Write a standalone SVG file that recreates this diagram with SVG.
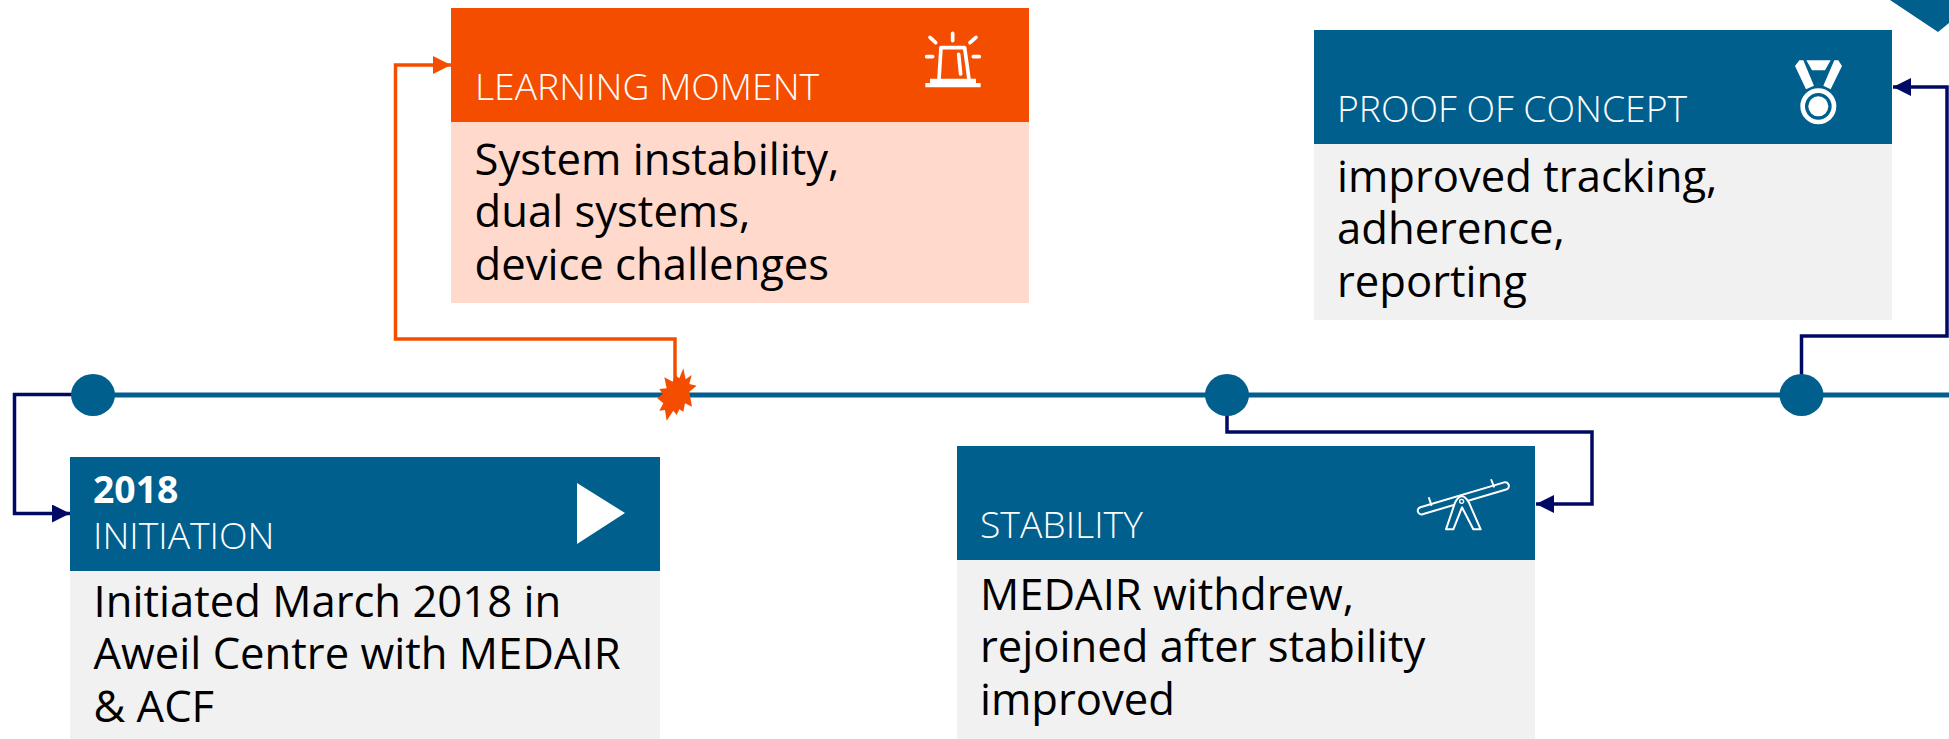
<svg xmlns="http://www.w3.org/2000/svg" width="1949" height="739" viewBox="0 0 1949 739">
<style>
text{font-family:"Open Sans","Noto Sans","Liberation Sans",sans-serif}
.head{fill:#005f8d}
.body{fill:#f1f1f1}
.ht{font-size:37.3px;font-weight:300;fill:#fff}
.yr{font-size:37.3px;font-weight:700;fill:#fff}
.bt{font-size:43.6px;fill:#000}
.dot{fill:#005f8d}
.ic{fill:none;stroke:#fff;stroke-linecap:round;stroke-linejoin:round}
.c{fill:none;stroke:#000a64;stroke-width:3.500}
.co{fill:none;stroke:#f44d00;stroke-width:3.500}
</style>
<defs>
<marker id="an" markerUnits="userSpaceOnUse" markerWidth="18" markerHeight="18" refX="18" refY="9" orient="auto"><path d="M0 0L18 9L0 18Z" fill="#000a64"/></marker>
<marker id="ao" markerUnits="userSpaceOnUse" markerWidth="18" markerHeight="18" refX="18" refY="9" orient="auto"><path d="M0 0L18 9L0 18Z" fill="#f44d00"/></marker>
</defs>
<rect width="1949" height="739" fill="#fff"/>
<path id="corner" class="dot" d="M1890 0L1938 32L1949 23V0Z"/>
<path id="timeline" d="M93 395H1949" stroke="#005f8d" stroke-width="5" fill="none"/>
<g id="connectors">
<path class="c" d="M72 394.500H14.500V513.500H70" marker-end="url(#an)"/>
<path class="co" d="M675 385V339H395.500V65H451" marker-end="url(#ao)"/>
<path class="c" d="M1227 405V432H1592V504H1536" marker-end="url(#an)"/>
<path class="c" d="M1801.500 395V336H1947V87H1893" marker-end="url(#an)"/>
</g>
<g id="dot1"><ellipse class="dot" cx="93" cy="395" rx="22" ry="21"/></g>
<g id="dot2"><ellipse class="dot" cx="1227" cy="395" rx="22" ry="21"/></g>
<g id="dot3"><ellipse class="dot" cx="1801.500" cy="395" rx="22" ry="21"/></g>
<g id="burst"><polygon fill="#f44d00" transform="translate(620 320) scale(.3333)" points="190,145 197,178 215,165 208,192 230,197 208,215 216,260 195,250 190,275 178,268 170,285 160,272 140,302 135,270 118,272 130,250 112,235 128,222 118,207 140,205 133,172 158,185 165,165 178,175"/></g>
<g id="initiation">
<rect class="head" x="70" y="457" width="590" height="114"/>
<rect class="body" x="70" y="571" width="590" height="168"/>
<text class="yr" x="93" y="503">2018</text>
<text class="ht" x="93" y="549">INITIATION</text>
<polygon fill="#fff" points="577,483 625,513 577,544"/>
<text class="bt" x="93.500" y="617">Initiated March 2018 in</text>
<text class="bt" x="93.500" y="669">Aweil Centre with MEDAIR</text>
<text class="bt" x="93.500" y="722">&amp; ACF</text>
</g>
<g id="learning">
<rect x="451" y="8" width="578" height="114" fill="#f44d00"/>
<rect x="451" y="122" width="578" height="181" fill="#ffd9cc"/>
<text class="ht" x="475" y="100">LEARNING MOMENT</text>
<g transform="translate(880 0) scale(.3333)">
<path class="ic" stroke-width="11" d="M218 100V122M150 112L167 128M288 112L270 128M140 170H158M280 170H298M177 238L183 143H254L267 238M236 163L242 222"/>
<path fill="#fff" d="M136 262V249H150V236H288V249H302V262Z"/>
</g>
<text class="bt" x="474.500" y="175">System instability,</text>
<text class="bt" x="474.500" y="227">dual systems,</text>
<text class="bt" x="474.500" y="280">device challenges</text>
</g>
<g id="stability">
<rect class="head" x="957" y="446" width="578" height="114"/>
<rect class="body" x="957" y="560" width="578" height="179"/>
<text class="ht" x="980" y="538">STABILITY</text>
<g transform="translate(1390 470) scale(.3333)">
<path class="ic" stroke-width="6" d="M117 84L124 105M304 30L312 50"/>
<rect class="ic" stroke-width="6" x="78" y="74" width="284" height="22" rx="11" transform="rotate(-16.500 220 85)"/>
<path stroke="#fff" stroke-width="6" stroke-linejoin="round" fill="#005f8d" d="M168 178L195 98Q215 60 237 98L272 178H250L216 112L190 178Z"/>
<circle cx="215" cy="94" r="6" fill="none" stroke="#fff" stroke-width="4"/>
</g>
<text class="bt" x="980" y="610">MEDAIR withdrew,</text>
<text class="bt" x="980" y="662">rejoined after stability</text>
<text class="bt" x="980" y="715">improved</text>
</g>
<g id="proof">
<rect class="head" x="1314" y="30" width="578" height="114"/>
<rect class="body" x="1314" y="144" width="578" height="176"/>
<text class="ht" x="1337" y="122">PROOF OF CONCEPT</text>
<g transform="translate(1740 0) scale(.3333)">
<path fill="#fff" d="M178 181H190L222 257L198 268L165 198ZM199 181H272L255 211H216ZM283 181H295L306 198L272 268L250 257Z"/>
<circle cx="235" cy="319" r="47" fill="none" stroke="#fff" stroke-width="14"/>
<circle cx="235" cy="319" r="30" fill="#fff"/>
</g>
<text class="bt" x="1337" y="192">improved tracking,</text>
<text class="bt" x="1337" y="244">adherence,</text>
<text class="bt" x="1337" y="297">reporting</text>
</g>
</svg>
